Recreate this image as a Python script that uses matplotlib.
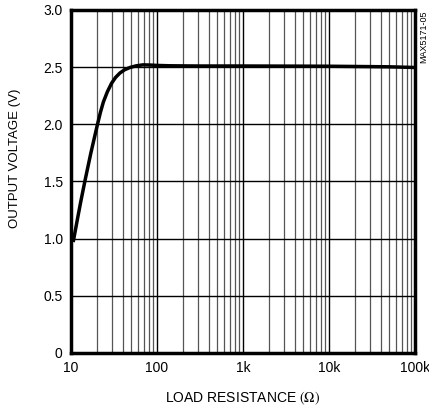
import numpy as np
import matplotlib.pyplot as plt
import matplotlib.ticker as ticker

plt.rcParams['font.family'] = ['Liberation Sans', 'DejaVu Sans']
plt.rcParams['mathtext.fontset'] = 'stix'

# load resistance (ohm) vs output voltage (V)
r_load = [10.6, 12, 13, 14.6, 17, 20.2, 22, 23.8, 26.5, 29.7, 33, 37, 42,
          48.5, 57, 68.7, 85, 100, 141, 300, 1000, 10000, 50000, 100000]
v_out = [0.97, 1.188, 1.325, 1.513, 1.747, 1.991, 2.105, 2.195, 2.285,
         2.36, 2.41, 2.448, 2.477, 2.497, 2.511, 2.52, 2.518, 2.515, 2.512,
         2.51, 2.51, 2.508, 2.503, 2.497]

xticks = [10, 100, 1000, 10000, 100000]
xlabels = ['10', '100', '1k', '10k', '100k']
yticks = [0, 0.5, 1.0, 1.5, 2.0, 2.5, 3.0]
ylabels = ['0', '0.5', '1.0', '1.5', '2.0', '2.5', '3.0']

fig = plt.figure(figsize=(4.29, 4.09), dpi=100)
ax = fig.add_axes([0.1655, 0.137, 0.8015, 0.8386])

ax.set_xscale('log')
ax.set_xlim(10, 100000)
ax.set_ylim(0, 3.0)

ax.set_xticks(xticks)
ax.set_xticklabels(xlabels)
ax.xaxis.set_minor_locator(ticker.LogLocator(base=10, subs=np.arange(2, 10)))
ax.xaxis.set_minor_formatter(ticker.NullFormatter())
ax.set_yticks(yticks)
ax.set_yticklabels(ylabels)

ax.grid(True, which='major', axis='both', color='black', linewidth=1.0)
ax.grid(True, which='minor', axis='x', color='#555555', linewidth=0.9)
ax.tick_params(which='both', length=0, labelsize=10, pad=6)

for s in ax.spines.values():
    s.set_linewidth(2.5)

ax.plot(r_load, v_out, color='black', linewidth=2.5, solid_capstyle='butt')

ax.set_xlabel('LOAD RESISTANCE $(\\Omega)$', fontsize=10)
ax.set_ylabel('OUTPUT VOLTAGE (V)', fontsize=9.5)
ax.yaxis.set_label_coords(-0.145, 0.568)
ax.xaxis.set_label_coords(0.5, -0.108)

fig.text(0.988, 0.975, 'MAX5171-05', rotation=90, fontsize=6.5,
         ha='center', va='top')

fig.savefig('out.png', dpi=100)
